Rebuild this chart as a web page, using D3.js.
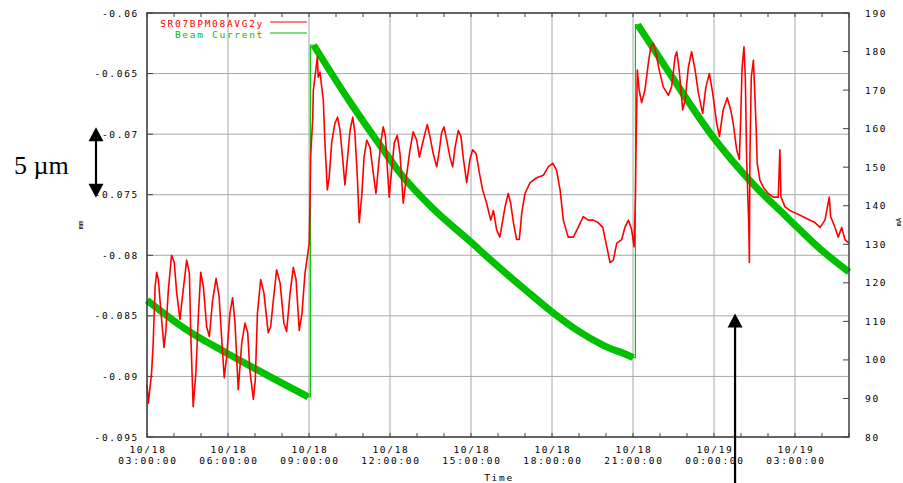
<!DOCTYPE html>
<html>
<head>
<meta charset="utf-8">
<script src="https://cdn.jsdelivr.net/npm/d3@7"></script>
<style>
  body { margin: 0; background: #fff; }
  svg { display: block; }
  text { font-family: "DejaVu Sans Mono", "Liberation Mono", monospace; }
</style>
</head>
<body>
<script>
// BPM vertical position vs. beam current, 10/18 03:00 -> 10/19 05:00

// hours counted from 10/18 00:00
var timeStart = 3, timeEnd = 29;
var mmTicks = [-0.095, -0.09, -0.085, -0.08, -0.075, -0.07, -0.065, -0.06];
var maTicks = [80, 90, 100, 110, 120, 130, 140, 150, 160, 170, 180, 190];
var seriesNames = ["SR07BPM08AVG2y", "Beam Current"];

// SR07BPM08AVG2y [hour, mm]
var bpmPoints = [
  [3.00,-0.0907],[3.05,-0.0922],[3.17,-0.0897],[3.23,-0.0872],[3.30,-0.0826],[3.36,-0.0814],
  [3.42,-0.0820],[3.51,-0.0845],[3.63,-0.0876],[3.70,-0.0862],[3.79,-0.0829],[3.91,-0.0800],
  [4.01,-0.0806],[4.10,-0.0831],[4.22,-0.0853],[4.34,-0.0829],[4.47,-0.0804],[4.57,-0.0815],
  [4.62,-0.0864],[4.71,-0.0925],[4.81,-0.0897],[4.90,-0.0851],[4.99,-0.0814],[5.09,-0.0826],
  [5.21,-0.0859],[5.31,-0.0867],[5.43,-0.0837],[5.56,-0.0819],[5.67,-0.0834],[5.77,-0.0870],
  [5.86,-0.0901],[5.95,-0.0884],[6.07,-0.0848],[6.17,-0.0835],[6.26,-0.0856],[6.38,-0.0911],
  [6.51,-0.0872],[6.63,-0.0856],[6.73,-0.0864],[6.81,-0.0895],[6.94,-0.0919],[7.01,-0.0903],
  [7.09,-0.0848],[7.21,-0.0820],[7.33,-0.0831],[7.49,-0.0864],[7.58,-0.0859],[7.68,-0.0837],
  [7.80,-0.0812],[7.93,-0.0823],[8.07,-0.0856],[8.17,-0.0863],[8.30,-0.0831],[8.42,-0.0810],
  [8.52,-0.0820],[8.64,-0.0862],[8.74,-0.0848],[8.85,-0.0815],[8.94,-0.0801],[9.01,-0.0790],
  [9.04,-0.0752],[9.06,-0.0719],[9.14,-0.0686],[9.16,-0.0664],[9.22,-0.0653],[9.31,-0.0636],
  [9.34,-0.0653],[9.41,-0.0649],[9.47,-0.0661],[9.53,-0.0672],[9.59,-0.0707],[9.68,-0.0746],
  [9.75,-0.0735],[9.84,-0.0707],[9.96,-0.0691],[10.06,-0.0686],[10.15,-0.0697],[10.25,-0.0721],
  [10.33,-0.0742],[10.42,-0.0721],[10.52,-0.0697],[10.62,-0.0686],[10.70,-0.0699],[10.79,-0.0735],
  [10.86,-0.0773],[10.95,-0.0752],[11.04,-0.0719],[11.14,-0.0705],[11.26,-0.0711],[11.38,-0.0732],
  [11.48,-0.0749],[11.57,-0.0727],[11.67,-0.0705],[11.75,-0.0694],[11.83,-0.0702],[11.90,-0.0727],
  [11.97,-0.0752],[12.06,-0.0730],[12.16,-0.0707],[12.27,-0.0701],[12.37,-0.0716],[12.49,-0.0757],
  [12.59,-0.0738],[12.74,-0.0713],[12.86,-0.0698],[12.99,-0.0705],[13.09,-0.0719],[13.17,-0.0711],
  [13.30,-0.0699],[13.38,-0.0692],[13.48,-0.0702],[13.60,-0.0716],[13.73,-0.0727],[13.83,-0.0713],
  [13.91,-0.0699],[14.00,-0.0694],[14.10,-0.0705],[14.22,-0.0719],[14.32,-0.0727],[14.41,-0.0711],
  [14.53,-0.0697],[14.63,-0.0702],[14.71,-0.0719],[14.84,-0.0740],[14.96,-0.0721],[15.06,-0.0713],
  [15.19,-0.0716],[15.31,-0.0732],[15.43,-0.0746],[15.58,-0.0757],[15.73,-0.0771],[15.83,-0.0763],
  [15.95,-0.0779],[16.07,-0.0785],[16.13,-0.0777],[16.26,-0.0760],[16.38,-0.0749],[16.47,-0.0757],
  [16.57,-0.0773],[16.69,-0.0787],[16.79,-0.0787],[16.88,-0.0765],[17.00,-0.0749],[17.19,-0.0740],
  [17.43,-0.0736],[17.68,-0.0734],[17.86,-0.0727],[18.03,-0.0724],[18.17,-0.0730],[18.30,-0.0746],
  [18.42,-0.0771],[18.60,-0.0785],[18.79,-0.0785],[18.97,-0.0777],[19.16,-0.0768],[19.34,-0.0771],
  [19.53,-0.0771],[19.71,-0.0773],[19.88,-0.0777],[20.03,-0.0793],[20.15,-0.0806],[20.27,-0.0804],
  [20.40,-0.0790],[20.58,-0.0787],[20.70,-0.0777],[20.83,-0.0771],[20.95,-0.0779],[21.04,-0.0793],
  [21.09,-0.0752],[21.11,-0.0716],[21.16,-0.0647],[21.23,-0.0664],[21.32,-0.0674],[21.44,-0.0664],
  [21.57,-0.0641],[21.66,-0.0628],[21.75,-0.0625],[21.85,-0.0633],[21.97,-0.0647],[22.12,-0.0661],
  [22.31,-0.0668],[22.43,-0.0661],[22.56,-0.0636],[22.62,-0.0632],[22.71,-0.0647],[22.84,-0.0680],
  [22.93,-0.0672],[23.05,-0.0645],[23.17,-0.0632],[23.30,-0.0647],[23.42,-0.0666],[23.58,-0.0683],
  [23.70,-0.0661],[23.83,-0.0650],[23.95,-0.0666],[24.10,-0.0691],[24.20,-0.0702],[24.34,-0.0680],
  [24.49,-0.0670],[24.62,-0.0680],[24.71,-0.0691],[24.84,-0.0713],[24.94,-0.0721],[24.99,-0.0686],
  [25.04,-0.0645],[25.11,-0.0628],[25.16,-0.0653],[25.21,-0.0721],[25.29,-0.0777],[25.31,-0.0806],
  [25.33,-0.0721],[25.38,-0.0653],[25.46,-0.0639],[25.51,-0.0666],[25.56,-0.0694],[25.60,-0.0724],
  [25.70,-0.0738],[25.83,-0.0744],[26.01,-0.0749],[26.20,-0.0752],[26.38,-0.0752],[26.44,-0.0713],
  [26.48,-0.0752],[26.63,-0.0760],[26.81,-0.0763],[27.00,-0.0765],[27.19,-0.0767],[27.37,-0.0769],
  [27.56,-0.0771],[27.74,-0.0773],[27.93,-0.0777],[28.11,-0.0771],[28.27,-0.0752],[28.32,-0.0768],
  [28.48,-0.0777],[28.60,-0.0785],[28.73,-0.0777],[28.85,-0.0787],[29.00,-0.0790]
];

// Beam Current [hour, mA]
var beamPoints = [
  [3.00,115.5],[4.47,107.8],[5.95,101.8],[7.43,96.1],[8.97,90.4],
  [9.17,181.7],[10.52,166.9],[11.75,154.5],[12.37,148.5],[13.60,139.2],[14.96,130.8],
  [15.83,125.3],[17.06,117.9],[17.99,112.5],[18.91,107.8],[19.90,103.8],[20.95,100.8],[21.01,100.6],
  [21.17,187.0],[22.37,174.2],[23.97,157.8],[25.45,145.6],[26.69,137.1],[27.93,128.8],[29.00,122.8]
];

// annotation arrow (time in hours, mm at the tip)
var arrowHour = 24.78, arrowTipMM = -0.0848;

var margin = {top: 13, right: 54, bottom: 46, left: 147},
    width = 903 - margin.left - margin.right,
    height = 483 - margin.top - margin.bottom;

var day0 = new Date(2004, 9, 18, 0, 0, 0);
function toDate(h) { return new Date(day0.getTime() + h * 3600e3); }

var x = d3.scaleTime().domain([toDate(timeStart), toDate(timeEnd)]).range([0, width]);
var y = d3.scaleLinear().domain([-0.095, -0.06]).range([height, 0]);
var y2 = d3.scaleLinear().domain([80, 190]).range([height, 0]);

var svg0 = d3.select("body").append("svg")
    .attr("width", 903)
    .attr("height", 483);
var svg = svg0.append("g")
    .attr("transform", "translate(" + margin.left + "," + margin.top + ")");

var gridColor = "#a8a8a8", axisColor = "#404040";
var labelFont = "9.5px", labelSpacing = "1.7px";
var majorTicks = x.ticks(d3.timeHour.every(3));
var minorTicks = x.ticks(d3.timeHour.every(1));

// grid
svg.selectAll(".vgrid").data(majorTicks).enter().append("line")
    .attr("x1", function(d) { return x(d); }).attr("x2", function(d) { return x(d); })
    .attr("y1", 0).attr("y2", height)
    .attr("stroke", gridColor).attr("stroke-width", 1);
svg.selectAll(".hgrid").data(mmTicks).enter().append("line")
    .attr("x1", 0).attr("x2", width)
    .attr("y1", function(d) { return y(d); }).attr("y2", function(d) { return y(d); })
    .attr("stroke", gridColor).attr("stroke-width", 1);

// minor ticks top / bottom, value ticks left / right
svg.selectAll(".mtb").data(minorTicks).enter().append("line")
    .attr("x1", function(d) { return x(d); }).attr("x2", function(d) { return x(d); })
    .attr("y1", height).attr("y2", height - 4)
    .attr("stroke", axisColor);
svg.selectAll(".mtt").data(minorTicks).enter().append("line")
    .attr("x1", function(d) { return x(d); }).attr("x2", function(d) { return x(d); })
    .attr("y1", 0).attr("y2", 4)
    .attr("stroke", axisColor);
svg.selectAll(".ltick").data(mmTicks).enter().append("line")
    .attr("x1", 0).attr("x2", 6)
    .attr("y1", function(d) { return y(d); }).attr("y2", function(d) { return y(d); })
    .attr("stroke", axisColor);
svg.selectAll(".rtick").data(maTicks).enter().append("line")
    .attr("x1", width - 6).attr("x2", width)
    .attr("y1", function(d) { return y2(d); }).attr("y2", function(d) { return y2(d); })
    .attr("stroke", axisColor);

// beam current: thick band for each fill, thin line for each injection
var fills = [[]];
beamPoints.forEach(function(p, i) {
  if (i > 0 && p[1] - beamPoints[i - 1][1] > 20) fills.push([]);
  fills[fills.length - 1].push(p);
});
var lineBeam = d3.line()
    .x(function(d) { return x(toDate(d[0])); })
    .y(function(d) { return y2(d[1]); });
for (var i = 1; i < fills.length; i++) {
  var a = fills[i - 1][fills[i - 1].length - 1], b = fills[i][0];
  svg.append("path")
      .attr("d", lineBeam([a, [a[0] + 0.08, a[1]], [a[0] + 0.08, b[1]], b]))
      .attr("fill", "none").attr("stroke", "#00c800").attr("stroke-width", 1.2);
}
svg.selectAll(".fill").data(fills).enter().append("path")
    .attr("d", function(d) { return lineBeam.curve(d3.curveMonotoneX)(d); })
    .attr("fill", "none")
    .attr("stroke", "#00c000")
    .attr("stroke-width", 7);

// BPM
var lineBpm = d3.line()
    .x(function(d) { return x(toDate(d[0])); })
    .y(function(d) { return y(d[1]); });
svg.append("path")
    .attr("d", lineBpm(bpmPoints))
    .attr("fill", "none")
    .attr("stroke", "#ff0000")
    .attr("stroke-width", 1.6)
    .attr("stroke-linejoin", "round");

// frame
svg.append("rect")
    .attr("width", width).attr("height", height)
    .attr("fill", "none").attr("stroke", axisColor).attr("stroke-width", 1.5);

// tick labels
var fmtDay = d3.timeFormat("%m/%d"), fmtTime = d3.timeFormat("%H:%M:%S");
svg.selectAll(".xday").data(majorTicks).enter().append("text")
    .attr("x", function(d) { return x(d) + 1; })
    .attr("y", height + 15.5)
    .attr("text-anchor", "middle")
    .style("font-size", labelFont).style("letter-spacing", labelSpacing)
    .text(function(d) { return fmtDay(d); });
svg.selectAll(".xtime").data(majorTicks).enter().append("text")
    .attr("x", function(d) { return x(d) + 1; })
    .attr("y", height + 26.5)
    .attr("text-anchor", "middle")
    .style("font-size", labelFont).style("letter-spacing", labelSpacing)
    .text(function(d) { return fmtTime(d); });

svg.selectAll(".ylab").data(mmTicks).enter().append("text")
    .attr("x", -8)
    .attr("y", function(d) { return y(d) + 3.5; })
    .attr("text-anchor", "end")
    .style("font-size", labelFont).style("letter-spacing", labelSpacing)
    .text(function(d) { return String(d); });

svg.selectAll(".y2lab").data(maTicks).enter().append("text")
    .attr("x", width + 16)
    .attr("y", function(d) { return y2(d) + 3.5; })
    .style("font-size", labelFont).style("letter-spacing", labelSpacing)
    .text(function(d) { return d; });

// axis titles
svg.append("text")
    .attr("x", width / 2 + 1)
    .attr("y", height + 44)
    .attr("text-anchor", "middle")
    .style("font-size", labelFont).style("letter-spacing", labelSpacing)
    .text("Time");
svg.append("text")
    .attr("transform", "translate(" + (-64) + "," + (height / 2) + ") rotate(-90)")
    .attr("text-anchor", "middle")
    .style("font-size", "7px")
    .text("mm");
svg.append("text")
    .attr("transform", "translate(" + (width + 52) + "," + (height / 2 - 3) + ") rotate(-90)")
    .attr("text-anchor", "middle")
    .style("font-size", "7px")
    .text("mA");

// legend
var legColors = ["#ff0000", "#00c000"];
seriesNames.forEach(function(name, i) {
  svg.append("text")
      .attr("x", 117)
      .attr("y", 13.5 + i * 11.2)
      .attr("text-anchor", "end")
      .attr("fill", legColors[i])
      .style("font-size", labelFont).style("letter-spacing", labelSpacing)
      .text(name);
  svg.append("line")
      .attr("x1", 123).attr("x2", 160)
      .attr("y1", 9 + i * 11).attr("y2", 9 + i * 11)
      .attr("stroke", legColors[i]).attr("stroke-width", 1.2);
});

// annotations
function arrowHead(g, cx, tip, dir) {
  g.append("path")
      .attr("d", "M" + cx + "," + tip + "L" + (cx - 7.5) + "," + (tip + dir * 14) +
                 "L" + (cx + 7.5) + "," + (tip + dir * 14) + "Z")
      .attr("fill", "#000");
}
var ax = -51;
var top5 = y(-0.07) - 7, bot5 = y(-0.075) + 3;
svg.append("line").attr("x1", ax).attr("x2", ax).attr("y1", top5 + 10).attr("y2", bot5 - 10)
    .attr("stroke", "#000").attr("stroke-width", 2.2);
arrowHead(svg, ax, top5, 1);
arrowHead(svg, ax, bot5, -1);
svg.append("text")
    .attr("x", -133).attr("y", y(-0.0725) + 10)
    .style("font-family", "'Liberation Serif', 'DejaVu Serif', serif")
    .style("font-size", "26px")
    .text("5 µm");

var axp = x(toDate(arrowHour));
svg.append("line").attr("x1", axp).attr("x2", axp)
    .attr("y1", y(arrowTipMM) + 10).attr("y2", height + margin.bottom)
    .attr("stroke", "#000").attr("stroke-width", 2.2);
arrowHead(svg, axp, y(arrowTipMM), 1);
</script>
</body>
</html>
